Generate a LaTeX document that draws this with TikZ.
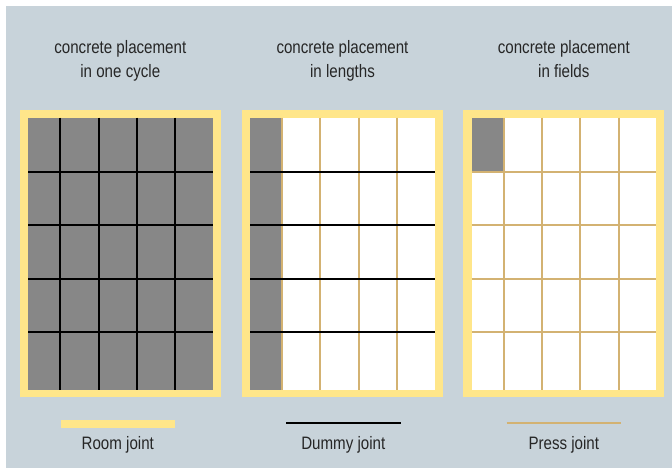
\documentclass[tikz,border=0pt]{standalone}
\usepackage{fontspec}
\setmainfont{Liberation Sans}[FakeStretch=0.84]
\usetikzlibrary{positioning}
\definecolor{panel}{HTML}{C8D3DA}
\definecolor{roomyellow}{HTML}{FFE68A}
\definecolor{cellgray}{HTML}{878787}
\definecolor{presstan}{HTML}{D3B272}
\definecolor{textgray}{HTML}{262626}

\begin{document}
\begin{tikzpicture}[x=1pt, y=-1pt,
  every node/.style={font=\fontsize{18}{24}\selectfont, text=textgray, inner sep=0pt},
  title/.style={align=center, anchor=base},
  dummyline/.style={line width=2pt, black},
  pressline/.style={line width=2pt, presstan}]
  \useasboundingbox (0,0) rectangle (672,468);
  \fill[panel] (6,6) rectangle (672,468);

  % one cycle
  \fill[roomyellow] (20,110) rectangle (220.7,397.3);
  \fill[cellgray] (28.3,117.7) rectangle (212.9,389.5);
  \foreach \x in {60.3,98.6,137,175.3}
    \draw[dummyline] (\x,117.7) -- (\x,389.5);
  \foreach \y in {172,225.3,278.7,332}
    \draw[dummyline] (28.3,\y) -- (212.9,\y);

  % lengths
  \fill[roomyellow] (242.3,110) rectangle (442.7,397.3);
  \fill[white] (250,117.7) rectangle (434.6,389.5);
  \fill[cellgray] (250,117.7) rectangle (282,389.5);
  \foreach \x in {282,320.3,358.7,397}
    \draw[pressline] (\x,117.7) -- (\x,389.5);
  \foreach \y in {172,225.3,278.7,332}
    \draw[dummyline] (250,\y) -- (434.6,\y);

  % fields
  \fill[roomyellow] (463.3,110) rectangle (664.3,397.3);
  \fill[white] (471.7,117.7) rectangle (656.3,389.5);
  \fill[cellgray] (471.7,117.7) rectangle (503.7,172);
  \foreach \x in {503.7,542,580.4,618.7}
    \draw[pressline] (\x,117.7) -- (\x,389.5);
  \foreach \y in {172,225.3,278.7,332}
    \draw[pressline] (471.7,\y) -- (656.3,\y);

  \node[title] (t1) at (120.3,77.3) {concrete placement\\in one cycle};
  \node[title] (t2) at (342.5,77.3) {concrete placement\\in lengths};
  \node[title] (t3) at (563.8,77.3) {concrete placement\\in fields};

  % legend
  \fill[roomyellow] (60.7,419.5) rectangle (175,427.7);
  \draw[dummyline] (286,423.3) -- (400.7,423.3);
  \draw[pressline] (506.7,423.3) -- (621,423.3);
  \node[anchor=base] (room) at (117.8,449.3) {Room joint};
  \node[anchor=base] (dummy) at (343.3,449.3) {Dummy joint};
  \node[anchor=base] (press) at (563.8,449.3) {Press joint};
\end{tikzpicture}
\end{document}
